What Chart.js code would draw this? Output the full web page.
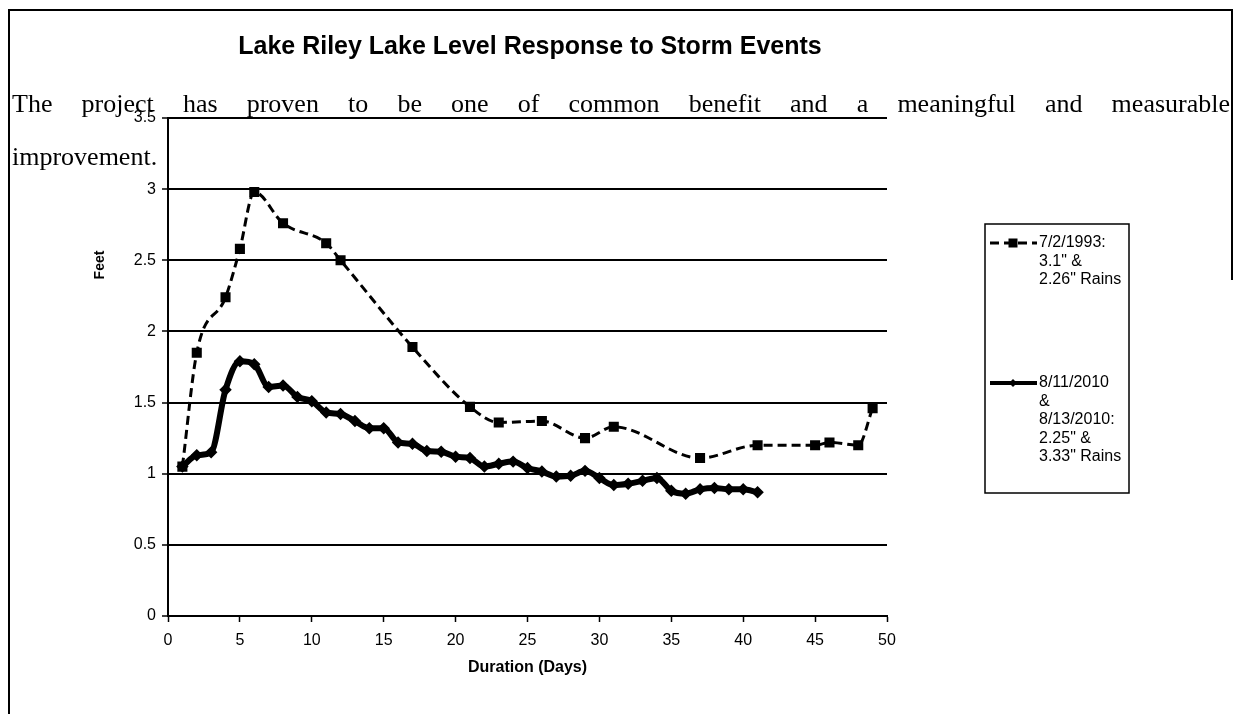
<!DOCTYPE html>
<html>
<head>
<meta charset="utf-8">
<script src="https://cdn.jsdelivr.net/npm/chart.js@4.4.1/dist/chart.umd.min.js"></script>
<style>
  html, body { margin: 0; padding: 0; background: #fff; }
  #wrap { position: relative; width: 1236px; height: 714px; overflow: hidden; }
  canvas { position: absolute; left: 0; top: 0; }
  .para { position: absolute; font-family: "Liberation Serif", "Times New Roman", serif; font-size: 26px; color: #000; pointer-events: none; white-space: nowrap; }
  #p1 { left: 12px; top: 89px; width: 1218px; text-align: justify; text-align-last: justify; white-space: normal; }
  #p2 { left: 12px; top: 142px; }
</style>
</head>
<body>
<div id="wrap">
  <canvas id="c" width="1236" height="714"></canvas>
  <div class="para" id="p1">The project has proven to be one of common benefit and a meaningful and measurable</div>
  <div class="para" id="p2">improvement.</div>
</div>
<script>
// ---- data ----
const chartTitle = "Lake Riley Lake Level Response to Storm Events";
const xAxisTitle = "Duration (Days)";
const yAxisTitle = "Feet";
const series1993Label = ["7/2/1993:", "3.1\" &", "2.26\" Rains"];
const series2010Label = ["8/11/2010", "&", "8/13/2010:", "2.25\" &", "3.33\" Rains"];

const days1993 = [1, 2, 4, 5, 6, 8, 11, 12, 17, 21, 23, 26, 29, 31, 37, 41, 45, 46, 48, 49];
const feet1993 = [1.05, 1.85, 2.24, 2.58, 2.98, 2.76, 2.62, 2.50, 1.89, 1.47, 1.36, 1.37, 1.25, 1.33, 1.11, 1.20, 1.20, 1.22, 1.20, 1.46];

const days2010 = [1, 2, 3, 4, 5, 6, 7, 8, 9, 10, 11, 12, 13, 14, 15, 16, 17, 18, 19, 20, 21, 22, 23, 24, 25, 26, 27, 28, 29, 30, 31, 32, 33, 34, 35, 36, 37, 38, 39, 40, 41];
const feet2010 = [1.05, 1.13, 1.15, 1.59, 1.79, 1.77, 1.61, 1.62, 1.54, 1.51, 1.43, 1.42, 1.37, 1.32, 1.32, 1.22, 1.21, 1.16, 1.155, 1.12, 1.11, 1.05, 1.07, 1.085, 1.04, 1.015, 0.98, 0.985, 1.02, 0.97, 0.92, 0.93, 0.95, 0.97, 0.88, 0.86, 0.89, 0.90, 0.89, 0.89, 0.87];

const xMin = 0, xMax = 50, xStep = 5;
const yMin = 0, yMax = 3.5, yStep = 0.5;

// ---- build ----
const pts1993 = days1993.map((d, i) => ({ x: d, y: feet1993[i] }));
const pts2010 = days2010.map((d, i) => ({ x: d, y: feet2010[i] }));

const SANS = '"Liberation Sans", Arial, sans-serif';

const decor = {
  id: 'decor',
  afterDraw(chart) {
    const ctx = chart.ctx;
    const ca = chart.chartArea;
    ctx.save();
    // page frame
    ctx.strokeStyle = '#000';
    ctx.lineWidth = 2;
    ctx.beginPath();
    ctx.moveTo(9, 714); ctx.lineTo(9, 10); ctx.lineTo(1232, 10); ctx.lineTo(1232, 280);
    ctx.stroke();

    // title
    ctx.fillStyle = '#000';
    ctx.textAlign = 'center';
    ctx.textBaseline = 'middle';
    ctx.font = 'bold 25px ' + SANS;
    ctx.fillText(chartTitle, 530, 47);

    // axis titles
    ctx.font = 'bold 16px ' + SANS;
    ctx.fillText(xAxisTitle, (ca.left + ca.right) / 2, 668);
    ctx.save();
    ctx.translate(100, 265);
    ctx.rotate(-Math.PI / 2);
    ctx.font = 'bold 14px ' + SANS;
    ctx.fillText(yAxisTitle, 0, 0);
    ctx.restore();

    // legend
    const bx = 985, by = 224, bw = 144, bh = 269;
    ctx.lineWidth = 1.5;
    ctx.strokeRect(bx, by, bw, bh);
    const ds = chart.data.datasets;
    const entries = [
      { ds: ds[0], y: 243, lines: series1993Label },
      { ds: ds[1], y: 383, lines: series2010Label }
    ];
    entries.forEach(e => {
      ctx.save();
      ctx.strokeStyle = '#000';
      ctx.lineWidth = Math.min(e.ds.borderWidth, 4);
      ctx.setLineDash(e.ds.borderDash || []);
      ctx.beginPath();
      ctx.moveTo(990, e.y); ctx.lineTo(1037, e.y);
      ctx.stroke();
      ctx.setLineDash([]);
      ctx.fillStyle = '#000';
      const cx = 1013;
      if (e.ds.pointStyle === 'rect') {
        ctx.fillRect(cx - 4.5, e.y - 4.5, 9, 9);
      } else {
        ctx.beginPath();
        ctx.moveTo(cx, e.y - 4); ctx.lineTo(cx + 4, e.y); ctx.lineTo(cx, e.y + 4); ctx.lineTo(cx - 4, e.y);
        ctx.closePath(); ctx.fill();
      }
      ctx.restore();
      ctx.font = '16px ' + SANS;
      ctx.textAlign = 'left';
      ctx.textBaseline = 'middle';
      e.lines.forEach((t, i) => ctx.fillText(t, 1039, e.y + i * 18.5));
    });
    ctx.restore();
  }
};

const fmt = v => String(Math.round(v * 10) / 10);

new Chart(document.getElementById('c'), {
  type: 'line',
  data: {
    datasets: [
      {
        label: series1993Label.join(' '),
        data: pts1993,
        borderColor: '#000',
        backgroundColor: '#000',
        borderWidth: 3,
        borderDash: [9, 5],
        pointStyle: 'rect',
        pointRadius: 5,
        pointBackgroundColor: '#000',
        pointBorderColor: '#000',
        cubicInterpolationMode: 'monotone',
        fill: false
      },
      {
        label: series2010Label.join(' '),
        data: pts2010,
        borderColor: '#000',
        backgroundColor: '#000',
        borderWidth: 6,
        pointStyle: 'rectRot',
        pointRadius: 2,
        pointBackgroundColor: '#000',
        pointBorderColor: '#000',
        cubicInterpolationMode: 'monotone',
        fill: false
      }
    ]
  },
  options: {
    responsive: false,
    animation: false,
    devicePixelRatio: 1,
    layout: { padding: { left: 0, top: 118, right: 349, bottom: 0 } },
    plugins: { legend: { display: false }, title: { display: false }, tooltip: { enabled: false } },
    scales: {
      x: {
        type: 'linear',
        min: xMin, max: xMax,
        afterFit(s) { s.height = 98; },
        ticks: { stepSize: xStep, color: '#000', font: { family: SANS, size: 16 }, padding: 9, maxRotation: 0, callback: fmt },
        grid: { drawOnChartArea: false, drawTicks: true, tickLength: 6, tickColor: '#000', tickWidth: 1.5 },
        border: { display: true, color: '#000', width: 2 }
      },
      y: {
        type: 'linear',
        min: yMin, max: yMax,
        afterFit(s) { s.width = 168; },
        ticks: { stepSize: yStep, color: '#000', font: { family: SANS, size: 16 }, padding: 6, callback: fmt },
        grid: { color: '#000', lineWidth: 2, drawTicks: true, tickLength: 6, tickColor: '#000', tickWidth: 1.5 },
        border: { display: true, color: '#000', width: 2 }
      }
    }
  },
  plugins: [decor]
});
</script>
</body>
</html>
